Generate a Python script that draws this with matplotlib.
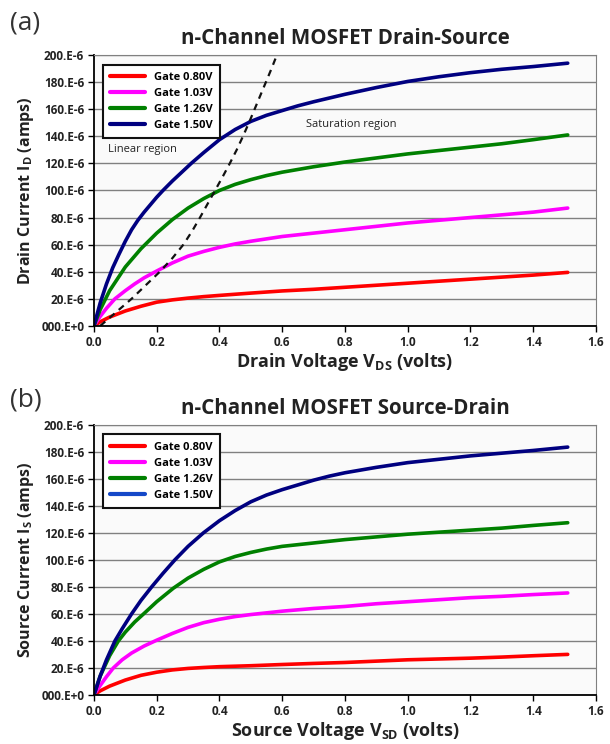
import matplotlib
matplotlib.use("Agg")
import matplotlib.pyplot as plt

plt.rcParams["font.family"] = ["Open Sans", "DejaVu Sans"]
plt.rcParams["mathtext.default"] = "regular"

# gate voltages shown in the legends
gates = ["Gate 0.80V", "Gate 1.03V", "Gate 1.26V", "Gate 1.50V"]
colors = ["#ff0000", "#ff00ff", "#008000", "#000080"]

# (a) drain-source curves, current in uA
a_red_x = [0, 0.02, 0.05, 0.1, 0.15, 0.2, 0.25, 0.3, 0.35, 0.4, 0.5, 0.6, 0.7, 0.8, 0.9, 1.0,
           1.1, 1.2, 1.3, 1.4, 1.51]
a_red_y = [0, 3, 6.5, 11, 14.5, 17.5, 19.2, 20.5, 21.6, 22.5, 24.2, 25.8, 27, 28.5, 30, 31.5,
           33, 34.5, 36, 37.5, 39.5]
a_mag_x = [0, 0.02, 0.04, 0.067, 0.1, 0.13, 0.16, 0.2, 0.25, 0.3, 0.35, 0.4, 0.45, 0.5, 0.6,
           0.7, 0.8, 0.9, 1.0, 1.1, 1.2, 1.3, 1.4, 1.51]
a_mag_y = [0, 7, 13, 20, 26, 31, 35.5, 40.5, 46.5, 51.5, 55, 58, 60.5, 62.5, 66, 68.5, 71,
           73.5, 76, 78, 80, 82, 84, 87]
a_grn_x = [0, 0.02, 0.05, 0.1, 0.15, 0.2, 0.25, 0.3, 0.35, 0.4, 0.45, 0.5, 0.55, 0.6, 0.7,
           0.8, 0.9, 1.0, 1.1, 1.2, 1.3, 1.4, 1.51]
a_grn_y = [0, 12, 26, 43.5, 57, 68.5, 78.5, 87, 94, 100, 104.5, 108, 111, 113.5, 117.5, 121,
           124, 127, 129.5, 132, 134.5, 137.5, 141]
a_blu_x = [0, 0.02, 0.04, 0.06, 0.08, 0.1, 0.12, 0.14, 0.16, 0.18, 0.2, 0.22, 0.25, 0.28,
           0.31, 0.35, 0.4, 0.45, 0.5, 0.55, 0.6, 0.65, 0.7, 0.8, 0.9, 1.0, 1.1, 1.2, 1.3,
           1.4, 1.51]
a_blu_y = [0, 17, 31, 43, 53, 62.5, 71, 78, 84, 89.5, 95, 100, 107, 113.5, 120, 128, 137.5,
           145, 151, 155.5, 159, 162.5, 165.5, 171, 176, 180.5, 184, 187, 189.5, 191.5, 194]
# saturation boundary (dashed)
sat_x = [0.02, 0.07, 0.12, 0.165, 0.21, 0.25, 0.285, 0.313, 0.338, 0.362, 0.386, 0.41, 0.433,
         0.455, 0.475, 0.494, 0.512, 0.53, 0.548, 0.566, 0.583]
sat_y = [0, 10, 20, 30, 40, 50, 60, 70, 80, 90, 100, 110, 120, 130, 140, 150, 160, 170, 180,
         190, 200]

# (b) source-drain curves, current in uA
b_red_x = [0, 0.02, 0.05, 0.1, 0.15, 0.2, 0.25, 0.3, 0.35, 0.4, 0.5, 0.6, 0.7, 0.8, 0.9, 1.0,
           1.1, 1.2, 1.3, 1.4, 1.51]
b_red_y = [0, 3, 6.5, 11, 14.5, 16.8, 18.5, 19.6, 20.3, 20.9, 21.6, 22.5, 23.3, 24, 25, 26,
           26.6, 27.2, 28, 29, 30]
b_mag_x = [0, 0.02, 0.04, 0.062, 0.09, 0.12, 0.16, 0.2, 0.25, 0.3, 0.35, 0.4, 0.45, 0.5, 0.6,
           0.7, 0.8, 0.9, 1.0, 1.1, 1.2, 1.3, 1.4, 1.51]
b_mag_y = [0, 7, 13.5, 20, 26, 31, 36.2, 40.5, 45.5, 50, 53.5, 56, 58, 59.5, 62, 64, 65.5,
           67.5, 69, 70.5, 72, 73, 74.3, 75.5]
b_grn_x = [0, 0.02, 0.05, 0.078, 0.1, 0.13, 0.163, 0.2, 0.253, 0.3, 0.35, 0.4, 0.45, 0.5,
           0.55, 0.6, 0.7, 0.8, 0.9, 1.0, 1.1, 1.2, 1.3, 1.4, 1.51]
b_grn_y = [0, 14, 29, 40, 46.5, 54, 61, 69, 79, 86.5, 93, 98.5, 102.5, 105.5, 108, 110,
           112.5, 115, 117, 119, 120.5, 122, 123.5, 125.5, 127.5]
b_blu_x = [0, 0.02, 0.04, 0.067, 0.09, 0.12, 0.15, 0.184, 0.22, 0.258, 0.3, 0.349, 0.4,
           0.45, 0.5, 0.55, 0.6, 0.65, 0.7, 0.75, 0.8, 0.9, 1.0, 1.1, 1.2, 1.3, 1.4, 1.51]
b_blu_y = [0, 14, 26, 40, 49, 60, 70, 80, 90, 100, 110, 120, 129, 136.5, 143, 148, 152,
           155.5, 159, 162, 164.5, 168.5, 172, 174.5, 177, 179, 181, 183.5]

y_ticks = [0, 20, 40, 60, 80, 100, 120, 140, 160, 180, 200]
y_ticklabels = ["000.E+0", "20.E-6", "40.E-6", "60.E-6", "80.E-6", "100.E-6",
                "120.E-6", "140.E-6", "160.E-6", "180.E-6", "200.E-6"]
x_ticks = [0.0, 0.2, 0.4, 0.6, 0.8, 1.0, 1.2, 1.4, 1.6]


def style_axes(ax, title, xlabel, ylabel):
    ax.set_facecolor("#fafafa")
    ax.set_xlim(0, 1.6)
    ax.set_ylim(0, 200)
    ax.set_yticks(y_ticks)
    ax.set_yticklabels(y_ticklabels)
    ax.set_xticks(x_ticks)
    ax.set_xticklabels([f"{t:.1f}" for t in x_ticks])
    for lab in ax.get_xticklabels() + ax.get_yticklabels():
        lab.set_fontweight("bold")
        lab.set_fontsize(8.5)
        lab.set_color("#222222")
    ax.tick_params(axis="both", direction="out", length=4, width=1, pad=3)
    ax.grid(axis="y", color="#808080", linewidth=1.0)
    ax.set_axisbelow(True)
    ax.spines["left"].set_linewidth(1.3)
    ax.spines["bottom"].set_linewidth(1.3)
    ax.spines["top"].set_color("#808080")
    ax.spines["right"].set_color("#808080")
    ax.set_title(title, fontsize=14.8, fontweight="bold", color="#222222", pad=8)
    ax.set_xlabel(xlabel, fontsize=13, fontweight="bold", color="#222222", labelpad=2)
    ax.set_ylabel(ylabel, fontsize=11.5, fontweight="bold", color="#222222", labelpad=4)


fig = plt.figure(figsize=(6.1, 7.44), dpi=100)
ax1 = fig.add_axes([0.154, 0.562, 0.823, 0.364])
ax2 = fig.add_axes([0.154, 0.066, 0.823, 0.363])

series_a = [(a_red_x, a_red_y), (a_mag_x, a_mag_y), (a_grn_x, a_grn_y), (a_blu_x, a_blu_y)]
series_b = [(b_red_x, b_red_y), (b_mag_x, b_mag_y), (b_grn_x, b_grn_y), (b_blu_x, b_blu_y)]

for (xs, ys), c, g in zip(series_a, colors, gates):
    ax1.plot(xs, ys, color=c, linewidth=2.6, label=g, solid_capstyle="round",
             solid_joinstyle="round")
ax1.plot(sat_x, sat_y, color="#111111", linewidth=1.6, linestyle=(0, (3, 2.5)))
ax1.text(0.045, 130, "Linear region", fontsize=8, color="#222222", va="center")
ax1.text(0.675, 149, "Saturation region", fontsize=8, color="#222222", va="center")
style_axes(ax1, "n-Channel MOSFET Drain-Source",
           "Drain Voltage V$_{DS}$ (volts)", "Drain Current I$_{D}$ (amps)")

for (xs, ys), c, g in zip(series_b, colors, gates):
    ax2.plot(xs, ys, color=c, linewidth=2.6, label=g, solid_capstyle="round",
             solid_joinstyle="round")
style_axes(ax2, "n-Channel MOSFET Source-Drain",
           "Source Voltage V$_{SD}$ (volts)", "Source Current I$_{S}$ (amps)")

for ax in (ax1, ax2):
    leg = ax.legend(loc="upper left", bbox_to_anchor=(0.006, 0.985), fancybox=False,
                    framealpha=1, edgecolor="#111111", prop={"weight": "bold", "size": 8},
                    handlelength=3.2, labelspacing=0.45, borderpad=0.65)
    leg.get_frame().set_linewidth(1.5)
    for h in leg.legend_handles:
        h.set_linewidth(3)
# legend of (b) shows a brighter blue than the curve
leg.legend_handles[3].set_color("#1448c8")

fig.text(0.016, 0.969, "(a)", fontsize=19, color="#333333", va="center")
fig.text(0.016, 0.462, "(b)", fontsize=19, color="#333333", va="center")

fig.savefig("out.png", dpi=100)
